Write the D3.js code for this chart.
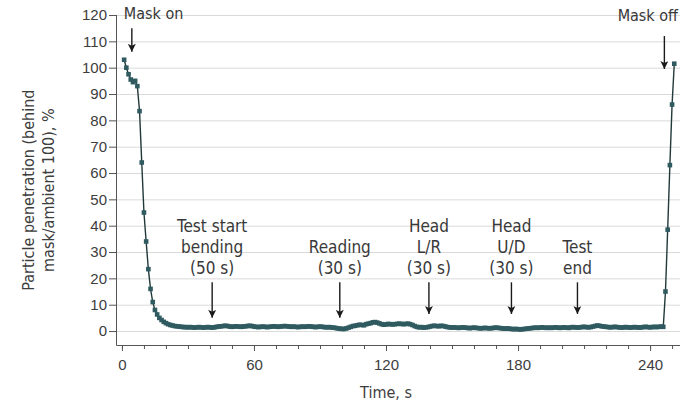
<!DOCTYPE html>
<html>
<head>
<meta charset="utf-8">
<script src="https://cdn.jsdelivr.net/npm/d3@7"></script>
<style>
  body { margin: 0; background: #fff; }
  svg { display: block; font-family: "Liberation Sans Narrow", "DejaVu Sans Condensed", "Roboto", sans-serif; }
  .tick text { fill: #3d3d3d; }
</style>
</head>
<body>
<div id="chart"></div>
<script>
//------------------------1. DATA------------------------//
// particle penetration (%), one reading per second starting at t = 1 s
const sampleStart = 1;
const penetration = [
  103, 100, 97.5, 95.5, 94.5, 95, 93, 83.5, 64, 45, 34, 23.5, 16, 11, 8, 6.3, 5, 4.2, 3.5, 3, 2.6, 2.3, 2.1, 1.9, 1.8,
  1.7, 1.6, 1.5, 1.5, 1.4, 1.5, 1.4, 1.3, 1.4, 1.5, 1.4, 1.3, 1.4, 1.5, 1.4,
  1.3, 1.4, 1.6, 1.7, 1.8, 1.9, 2.0, 1.9, 1.7, 1.6, 1.7, 1.8, 1.7, 1.6, 1.7, 1.8, 1.9, 2.0, 1.9, 1.7,
  1.6, 1.5, 1.6, 1.7, 1.6, 1.5, 1.6, 1.7, 1.8, 1.7, 1.6, 1.7, 1.8, 1.9, 1.8, 1.7, 1.6, 1.7, 1.6, 1.5,
  1.6, 1.7, 1.6, 1.7, 1.8, 1.7, 1.6, 1.5, 1.6, 1.7, 1.6, 1.5, 1.4, 1.5, 1.4, 1.3, 1.2, 1.0, 0.9, 0.8,
  0.8, 1.0, 1.3, 1.6, 1.9, 2.0, 2.2, 2.4, 2.3, 2.2, 2.6, 2.8, 3.0, 3.3, 3.4, 3.2, 2.9, 2.6, 2.4, 2.5,
  2.7, 2.6, 2.5, 2.6, 2.7, 2.8, 2.7, 2.6, 2.7, 2.8, 2.6, 2.3, 1.9, 1.6, 1.4, 1.5, 1.3, 1.4, 1.5, 1.7,
  1.9, 2.0, 1.9, 1.8, 2.0, 1.9, 1.7, 1.5, 1.4, 1.3, 1.4, 1.3, 1.2, 1.3, 1.4, 1.3, 1.2, 1.1, 1.2, 1.3,
  1.2, 1.1, 1.0, 1.1, 1.2, 1.1, 1.0, 1.1, 1.2, 1.3, 1.2, 1.1, 1.0, 0.9, 1.0, 0.9, 0.8, 0.7, 0.8, 0.7,
  0.6, 0.7, 0.8, 0.9, 1.0, 1.1, 1.2, 1.3, 1.2, 1.3, 1.4, 1.3, 1.2, 1.3, 1.2, 1.3, 1.4, 1.3, 1.2, 1.3,
  1.4, 1.3, 1.2, 1.4, 1.5, 1.4, 1.3, 1.4, 1.5, 1.6, 1.5, 1.4, 1.5, 1.7, 1.9, 2.1, 2.0, 1.8, 1.7, 1.6,
  1.5, 1.4, 1.5, 1.6, 1.5, 1.4, 1.3, 1.4, 1.5, 1.4, 1.3, 1.4, 1.5, 1.4, 1.3, 1.4, 1.5, 1.6, 1.5, 1.4,
  1.5, 1.6, 1.5, 1.6, 1.7, 1.6, 15, 38.5, 63, 86, 101.5
];

const yTicks = [0, 10, 20, 30, 40, 50, 60, 70, 80, 90, 100, 110, 120];
const xMajorTicks = [0, 60, 120, 180, 240];
const xMinorTicks = d3.range(0, 260, 10);

// event annotations: time of arrow, text lines
const eventTimes = [4.5, 41, 99, 139.5, 177, 207, 246.5];
const eventLabels = [
  ["Mask on"],
  ["Test start", "bending", "(50 s)"],
  ["Reading", "(30 s)"],
  ["Head", "L/R", "(30 s)"],
  ["Head", "U/D", "(30 s)"],
  ["Test", "end"],
  ["Mask off"]
];

//------------------------2. SVG------------------------//
const W = 680, H = 406;
const margin = { top: 15, right: 0, bottom: 61, left: 116 };
const width = W - margin.left - margin.right;
const height = H - margin.top - margin.bottom;

const svg = d3.select("#chart").append("svg")
  .attr("width", W)
  .attr("height", H);

const g = svg.append("g")
  .attr("transform", "translate(" + margin.left + "," + margin.top + ")");

//------------------------SCALES------------------------//
const xScale = d3.scaleLinear().domain([-2.7, 253.6]).range([0, width]);
const yScale = d3.scaleLinear().domain([-5.3, 120]).range([height, 0]);

const points = penetration.map(function(v, i) {
  return { t: sampleStart + i, v: v };
});

//------------------------GRID------------------------//
g.append("g")
  .selectAll("line")
  .data(yTicks)
  .enter()
  .append("line")
  .attr("x1", 0)
  .attr("x2", width)
  .attr("y1", d => yScale(d) + 0.5)
  .attr("y2", d => yScale(d) + 0.5)
  .style("stroke", "#dadada")
  .style("stroke-width", 1);

//------------------------AXES------------------------//
const yAxis = d3.axisLeft(yScale)
  .tickValues(yTicks)
  .tickSize(7)
  .tickPadding(2);

const yG = g.append("g").call(yAxis);
yG.select(".domain").remove();
yG.selectAll("line").style("stroke", "#555");
yG.selectAll("text").style("font-size", "15px");

const xMinor = d3.axisBottom(xScale)
  .tickValues(xMinorTicks)
  .tickSize(4)
  .tickFormat("");
const xMinorG = g.append("g")
  .attr("transform", "translate(0," + height + ")")
  .call(xMinor);
xMinorG.select(".domain").remove();
xMinorG.selectAll("line").style("stroke", "#555");

const xAxis = d3.axisBottom(xScale)
  .tickValues(xMajorTicks)
  .tickSize(6)
  .tickPadding(8);
const xG = g.append("g")
  .attr("transform", "translate(0," + height + ")")
  .call(xAxis);
xG.select(".domain").remove();
xG.selectAll("line").style("stroke", "#555");
xG.selectAll("text").style("font-size", "15px");

// L-shaped frame
g.append("path")
  .attr("d", "M0.5,0V" + (height + 0.5) + "H" + width)
  .style("fill", "none")
  .style("stroke", "#555")
  .style("stroke-width", 1);

//------------------------TITLES------------------------//
svg.append("text")
  .attr("x", margin.left + xScale(120))
  .attr("y", 398)
  .attr("text-anchor", "middle")
  .style("font-size", "16px")
  .style("fill", "#3d3d3d")
  .text("Time, s");

const yTitle = svg.append("text")
  .attr("transform", "translate(34," + (margin.top + yScale(53.5)) + ") rotate(-90)")
  .attr("text-anchor", "middle")
  .style("font-size", "16px")
  .style("fill", "#3d3d3d");
yTitle.append("tspan").attr("x", 0).attr("dy", 0).text("Particle penetration (behind");
yTitle.append("tspan").attr("x", 0).attr("dy", 20).text("mask/ambient 100), %");

//------------------------SERIES------------------------//
const line = d3.line()
  .x(d => xScale(d.t))
  .y(d => yScale(d.v));

g.append("path")
  .datum(points)
  .attr("d", line)
  .style("fill", "none")
  .style("stroke", "#22393b")
  .style("stroke-width", 1.4);

g.append("g")
  .selectAll("rect")
  .data(points)
  .enter()
  .append("rect")
  .attr("x", d => xScale(d.t) - 2.3)
  .attr("y", d => yScale(d.v) - 2.3)
  .attr("width", 4.6)
  .attr("height", 4.6)
  .style("fill", "#2f5b60");

//------------------------ANNOTATIONS------------------------//
svg.append("defs").append("marker")
  .attr("id", "arrow")
  .attr("viewBox", "0 0 10 10")
  .attr("refX", 10)
  .attr("refY", 5)
  .attr("markerWidth", 9)
  .attr("markerHeight", 8)
  .attr("markerUnits", "userSpaceOnUse")
  .attr("orient", "auto")
  .append("path")
  .attr("d", "M0,0L10,5L0,10L2.5,5z")
  .style("fill", "#1a1a1a");

const lineH = 21;
eventTimes.forEach(function(t, i) {
  const lines = eventLabels[i];
  const x = xScale(t);
  let textBase, arrowFrom, arrowTo, anchor = "middle", tx = x, size = "17px";
  if (i === 0) {
    textBase = yScale(119) + 1; arrowFrom = yScale(115); arrowTo = yScale(106);
    anchor = "start"; tx = x - 8; size = "16px";
  } else if (i === eventTimes.length - 1) {
    textBase = yScale(118) + 1; arrowFrom = yScale(112); arrowTo = yScale(99.5);
    anchor = "end"; tx = width - xScale(t) + x - 2; size = "16px";
  } else {
    const bottomBase = yScale(21.5);
    textBase = bottomBase - (lines.length - 1) * lineH;
    arrowFrom = yScale(18.5);
    arrowTo = yScale(i >= 3 ? 6.5 : 5);
  }
  const txt = g.append("text")
    .attr("text-anchor", anchor)
    .style("font-size", size)
    .style("fill", "#383838");
  lines.forEach(function(s, j) {
    txt.append("tspan")
      .attr("x", tx)
      .attr("y", textBase + j * lineH)
      .text(s);
  });
  g.append("line")
    .attr("x1", x).attr("x2", x)
    .attr("y1", arrowFrom).attr("y2", arrowTo)
    .style("stroke", "#1a1a1a")
    .style("stroke-width", 1.4)
    .attr("marker-end", "url(#arrow)");
});
</script>
</body>
</html>
